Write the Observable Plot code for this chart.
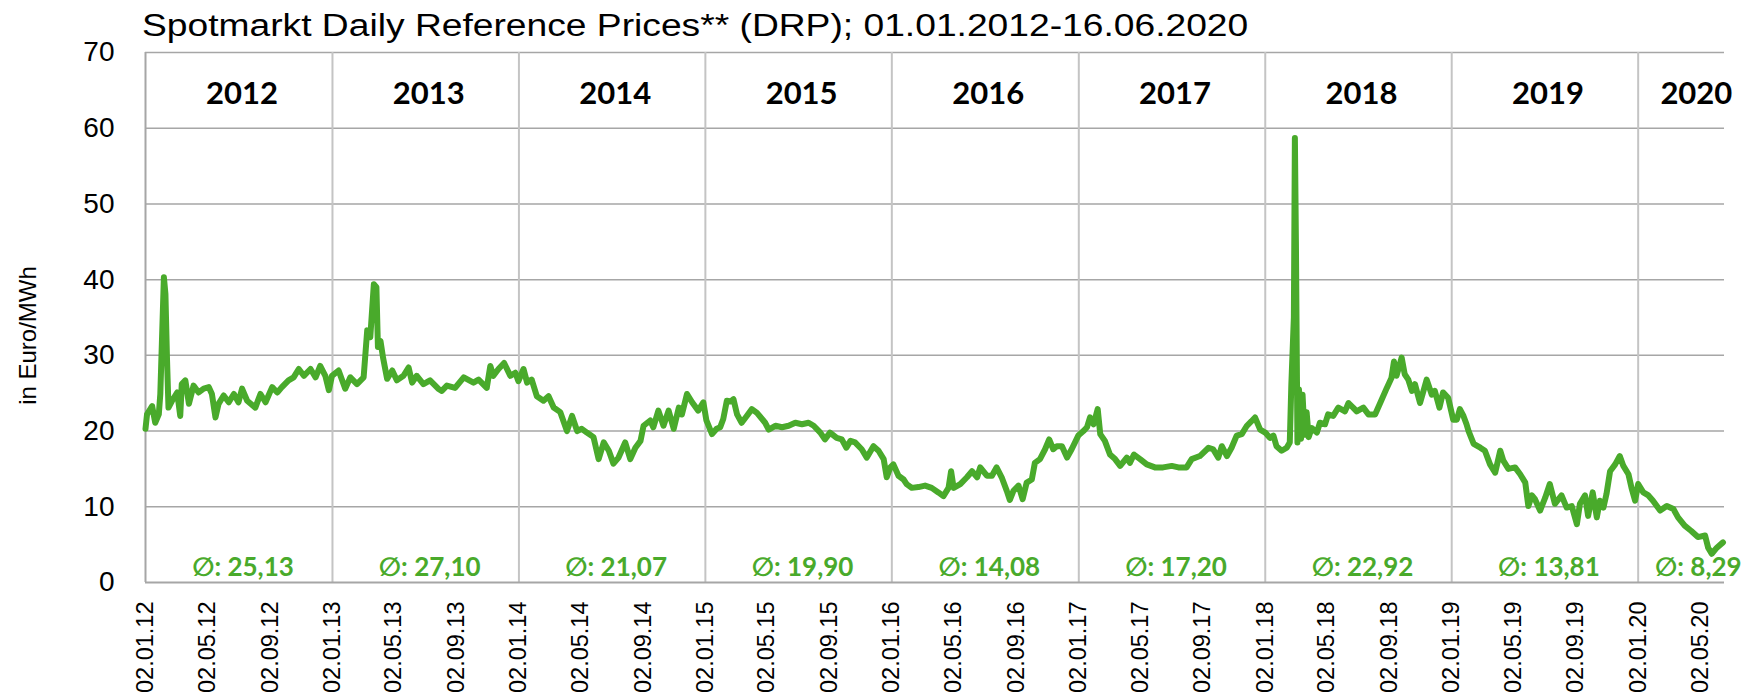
<!DOCTYPE html>
<html><head><meta charset="utf-8">
<script src="https://cdn.jsdelivr.net/npm/d3@7"></script>
<script src="https://cdn.jsdelivr.net/npm/@observablehq/plot@0.6"></script>
<style>
body{margin:0;background:#fff;width:1741px;height:694px;overflow:hidden}
#title{position:relative;height:40px;}
#title span{position:absolute;left:142px;top:10px;font:31px/1 "Liberation Sans",Arial,sans-serif;color:#000;transform:scaleX(1.2);transform-origin:0 0;white-space:nowrap}
</style></head><body>
<div id="title"><span>Spotmarkt Daily Reference Prices** (DRP); 01.01.2012-16.06.2020</span></div>
<div id="chart"></div>
<script>
const dates = [
"2012-01-02","2012-01-05","2012-01-15","2012-01-21","2012-01-28","2012-01-31","2012-02-03","2012-02-07","2012-02-10","2012-02-13","2012-02-16","2012-02-23","2012-03-04","2012-03-10","2012-03-13","2012-03-20","2012-03-27","2012-04-05","2012-04-15","2012-04-25","2012-05-05","2012-05-11","2012-05-18","2012-05-24","2012-06-03","2012-06-13","2012-06-23","2012-07-02","2012-07-09","2012-07-19","2012-08-04","2012-08-14","2012-08-24","2012-09-06","2012-09-16","2012-09-25","2012-10-08","2012-10-18","2012-10-28","2012-11-07","2012-11-20","2012-11-30","2012-12-09","2012-12-19","2012-12-26",
"2013-01-01","2013-01-14","2013-01-27","2013-02-06","2013-02-19","2013-03-04","2013-03-11","2013-03-17","2013-03-24","2013-03-29","2013-04-01","2013-04-06","2013-04-11","2013-04-19","2013-04-29","2013-05-08","2013-05-21","2013-05-31","2013-06-07","2013-06-16","2013-06-29","2013-07-12","2013-07-28","2013-08-04","2013-08-14","2013-08-30","2013-09-16","2013-10-05","2013-10-15","2013-10-31","2013-11-07","2013-11-13","2013-11-23","2013-12-04","2013-12-16","2013-12-26",
"2014-01-01","2014-01-11","2014-01-18","2014-01-27","2014-02-06","2014-02-19","2014-03-01","2014-03-11","2014-03-24","2014-04-06","2014-04-16","2014-04-26","2014-05-05","2014-05-15","2014-05-28","2014-06-07","2014-06-17","2014-06-27","2014-07-06","2014-07-16","2014-07-29","2014-08-08","2014-08-18","2014-08-28","2014-09-03","2014-09-16","2014-09-22","2014-10-02","2014-10-12","2014-10-22","2014-11-01","2014-11-11","2014-11-17","2014-11-27","2014-12-07","2014-12-19","2014-12-29",
"2015-01-04","2015-01-15","2015-01-24","2015-01-31","2015-02-06","2015-02-13","2015-02-20","2015-02-26","2015-03-05","2015-03-14","2015-03-24","2015-04-03","2015-04-13","2015-04-23","2015-04-29","2015-05-06","2015-05-19","2015-06-01","2015-06-14","2015-06-27","2015-07-10","2015-07-23","2015-08-02","2015-08-15","2015-08-24","2015-09-03","2015-09-16","2015-09-26","2015-10-05","2015-10-13","2015-10-22","2015-11-04","2015-11-14","2015-11-27","2015-12-07","2015-12-17","2015-12-23","2015-12-30",
"2016-01-05","2016-01-15","2016-01-25","2016-01-31","2016-02-10","2016-02-23","2016-03-07","2016-03-20","2016-04-02","2016-04-12","2016-04-22","2016-04-27","2016-05-02","2016-05-15","2016-05-28","2016-06-07","2016-06-17","2016-06-23","2016-07-06","2016-07-16","2016-07-25","2016-08-04","2016-08-14","2016-08-20","2016-08-27","2016-09-06","2016-09-14","2016-09-22","2016-10-02","2016-10-08","2016-10-18","2016-10-28","2016-11-05","2016-11-13","2016-11-20","2016-11-30","2016-12-10","2016-12-19",
"2017-01-01","2017-01-11","2017-01-18","2017-01-24","2017-01-31","2017-02-08","2017-02-13","2017-02-22","2017-03-04","2017-03-14","2017-03-24","2017-04-06","2017-04-12","2017-04-20","2017-05-02","2017-05-15","2017-05-31","2017-06-16","2017-07-03","2017-07-16","2017-08-01","2017-08-11","2017-08-27","2017-09-13","2017-09-22","2017-10-02","2017-10-09","2017-10-19","2017-10-28","2017-11-07","2017-11-17","2017-11-27","2017-12-06","2017-12-13","2017-12-23",
"2018-01-02","2018-01-11","2018-01-18","2018-01-24","2018-02-03","2018-02-13","2018-02-19","2018-02-22","2018-02-27","2018-03-01","2018-03-03","2018-03-06","2018-03-09","2018-03-13","2018-03-16","2018-03-20","2018-03-24","2018-03-28","2018-04-03","2018-04-13","2018-04-19","2018-04-29","2018-05-05","2018-05-15","2018-05-25","2018-06-07","2018-06-14","2018-06-23","2018-06-30","2018-07-13","2018-07-23","2018-08-05","2018-08-15","2018-08-28","2018-09-06","2018-09-11","2018-09-16","2018-09-26","2018-10-02","2018-10-09","2018-10-16","2018-10-22","2018-11-01","2018-11-14","2018-11-24","2018-11-30","2018-12-09","2018-12-16","2018-12-26",
"2019-01-05","2019-01-12","2019-01-18","2019-01-25","2019-01-31","2019-02-04","2019-02-14","2019-02-27","2019-03-08","2019-03-18","2019-03-28","2019-04-07","2019-04-13","2019-04-23","2019-05-06","2019-05-16","2019-05-26","2019-06-01","2019-06-08","2019-06-14","2019-06-24","2019-07-04","2019-07-13","2019-07-23","2019-08-05","2019-08-15","2019-08-25","2019-09-04","2019-09-10","2019-09-20","2019-09-26","2019-10-05","2019-10-13","2019-10-19","2019-10-26","2019-11-01","2019-11-08","2019-11-18","2019-11-27","2019-12-04","2019-12-14","2019-12-20","2019-12-27",
"2020-01-02","2020-01-12","2020-01-22","2020-01-31","2020-02-14","2020-02-27","2020-03-11","2020-03-20","2020-04-02","2020-04-15","2020-04-28","2020-05-12","2020-05-18","2020-05-25","2020-06-04","2020-06-16"
];
const prices = [
20.3,22.2,23.3,21.1,22.2,24.9,31.5,40.3,38.1,29.7,23.1,24.0,25.1,22.0,26.2,26.7,23.6,26.0,25.1,25.6,25.8,24.9,21.8,23.6,24.7,23.8,24.9,23.8,25.6,24.0,23.1,24.9,23.8,25.8,25.1,25.8,26.7,27.1,28.2,27.3,28.2,27.1,28.6,27.3,25.4,
27.3,28.0,25.6,27.1,26.2,27.1,33.3,32.4,39.4,39.0,31.1,31.9,29.7,26.9,28.0,26.7,27.3,28.4,26.4,27.3,26.2,26.7,25.6,25.3,26.0,25.7,27.1,26.4,26.8,25.7,28.6,27.3,28.2,29.0,27.3,27.7,
26.6,28.2,26.4,26.8,24.6,24.0,24.6,23.1,22.5,20.0,22.0,20.0,20.3,19.8,19.2,16.3,18.5,17.4,15.7,16.5,18.5,16.3,17.8,18.7,20.7,21.4,20.5,22.7,20.7,22.7,20.3,23.1,22.2,24.9,23.8,22.7,23.8,
21.4,19.6,20.3,20.5,21.6,24.0,23.9,24.2,22.2,21.1,22.0,22.9,22.4,21.6,21.1,20.2,20.7,20.5,20.7,21.1,20.9,21.1,20.7,19.8,18.9,19.8,19.1,18.9,17.8,18.7,18.5,17.6,16.5,18.0,17.4,16.3,13.9,15.2,
15.6,14.1,13.6,13.0,12.5,12.6,12.8,12.5,11.9,11.4,12.5,14.7,12.5,13.0,13.9,14.7,13.9,15.2,14.1,14.1,15.2,13.9,12.1,10.9,12.1,12.8,11.0,13.2,13.6,15.8,16.3,17.6,18.9,17.6,18.0,18.0,16.5,17.6,
19.4,20.0,20.5,21.8,20.9,22.9,19.6,18.7,16.9,16.3,15.4,16.5,15.8,16.9,16.3,15.6,15.2,15.2,15.4,15.2,15.2,16.3,16.7,17.8,17.6,16.5,18.0,16.7,17.8,19.4,19.6,20.7,21.3,21.8,20.2,
19.8,19.1,19.4,18.0,17.4,17.8,18.5,26.0,35.0,58.7,45.0,18.5,25.5,19.0,24.8,19.5,22.5,19.2,20.4,19.8,21.1,20.9,22.2,22.0,23.1,22.6,23.7,23.1,22.6,23.1,22.2,22.2,23.7,25.7,27.0,29.2,27.3,29.7,27.5,26.8,25.3,26.2,23.7,26.8,24.8,25.3,23.1,25.1,24.4,
21.5,21.5,22.9,22.0,20.9,20.0,18.3,17.8,17.4,15.6,14.5,17.4,16.1,15.0,15.2,14.3,13.2,10.1,11.5,11.0,9.5,11.2,13.0,10.4,11.5,9.9,10.1,7.7,10.4,11.5,8.8,11.9,8.6,10.8,9.9,11.7,14.7,15.6,16.7,15.4,14.3,12.5,10.8,
13.0,11.9,11.5,10.8,9.5,10.1,9.7,8.6,7.5,6.8,6.0,6.2,4.6,3.8,4.6,5.3
];
const years = [2012, 2013, 2014, 2015, 2016, 2017, 2018, 2019, 2020];
const averages = [25.13, 27.10, 21.07, 19.90, 14.08, 17.20, 22.92, 13.81, 8.29];
const yTicks = [0, 10, 20, 30, 40, 50, 60, 70];
const tickMonths = [0, 4, 8];
const axisStart = "2012-01-02", axisEnd = "2020-06-19";
const yLabel = "in Euro/MWh";

const green = "#49aa2b";
const data = dates.map((d, i) => ({date: new Date(d), price: prices[i]}));
const start = new Date(axisStart), end = new Date(axisEnd);
const yearStarts = years.map(y => new Date(Date.UTC(y, 0, 2)));
const info = years.map((y, i) => {
  const a = yearStarts[i], b = i < years.length - 1 ? yearStarts[i + 1] : end;
  return {year: String(y), avg: "\u2205: " + averages[i].toFixed(2).replace(".", ","),
          mid: new Date((+a + +b) / 2), last: i === years.length - 1};
});
const xTicks = [];
for (const y of years) for (const m of tickMonths) {
  const d = new Date(Date.UTC(y, m, 2));
  if (d <= end) xTicks.push(d);
}
const sans = '"Liberation Sans", Arial, sans-serif';
const bold = 'Lato, "DejaVu Sans", sans-serif';

const plot = Plot.plot({
  width: 1741, height: 654,
  marginTop: 12, marginBottom: 112, marginLeft: 145, marginRight: 17,
  style: {fontFamily: sans, overflow: "visible", background: "#fff", color: "#000"},
  x: {type: "utc", domain: [start, end]},
  y: {domain: [0, 70]},
  marks: [
    Plot.gridY(yTicks.filter(v => v > 0), {stroke: "#a6a6a6", strokeOpacity: 1, strokeWidth: 1.5}),
    Plot.ruleX(yearStarts.slice(1), {stroke: "#c4c4c4", strokeWidth: 2}),
    Plot.ruleY([0], {stroke: "#a6a6a6", strokeWidth: 2}),
    Plot.ruleX([start], {stroke: "#a6a6a6", strokeWidth: 2}),
    Plot.axisY({ticks: yTicks, tickSize: 0, tickPadding: 31, fontSize: 28, label: null}),
    Plot.axisX({ticks: xTicks, tickSize: 0, tickPadding: 19, tickRotate: -90,
                tickFormat: d3.utcFormat("%d.%m.%y"), fontSize: 23.5, label: null}),
    Plot.text([yLabel], {frameAnchor: "left", textAnchor: "middle", lineAnchor: "middle", dx: -117, dy: 18, rotate: -90,
                         fontSize: 24, fontFamily: sans, fill: "#000"}),
    Plot.lineY(data, {x: "date", y: "price", stroke: green, strokeWidth: 6, strokeLinejoin: "round", strokeLinecap: "round"}),
    Plot.text(info, {filter: d => !d.last, x: "mid", text: "year", frameAnchor: "top", lineAnchor: "middle", dy: 42, dx: 3,
                     fontSize: 31, fontWeight: "bold", fontFamily: bold, fill: "#000"}),
    Plot.text(info, {filter: d => d.last, x: "mid", text: "year", frameAnchor: "top", lineAnchor: "middle", dy: 42, dx: 15,
                     fontSize: 31, fontWeight: "bold", fontFamily: bold, fill: "#000"}),
    Plot.text(info, {filter: d => !d.last, x: "mid", text: "avg", frameAnchor: "bottom", lineAnchor: "middle", dy: -15, dx: 4,
                     fontSize: 26, fontWeight: "bold", fontFamily: bold, fill: green}),
    Plot.text(info, {filter: d => d.last, x: "mid", text: "avg", frameAnchor: "bottom", lineAnchor: "middle", dy: -15, dx: 17,
                     fontSize: 26, fontWeight: "bold", fontFamily: bold, fill: green})
  ]
});
document.getElementById("chart").appendChild(plot);
</script>
</body></html>
